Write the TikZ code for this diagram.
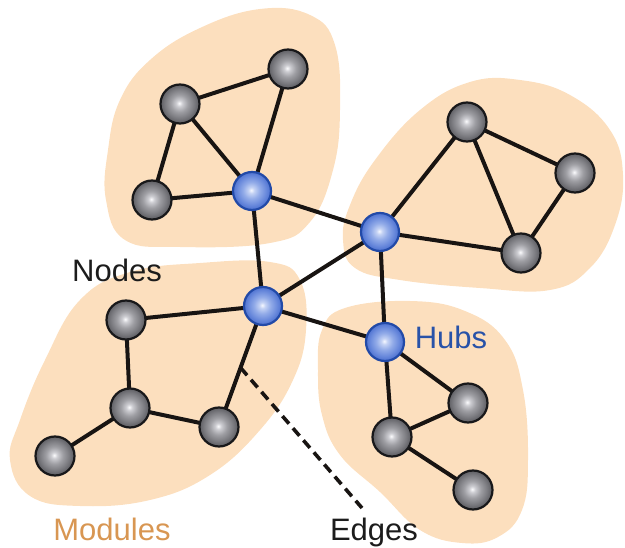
\documentclass[tikz,border=0pt]{standalone}
\usepackage{fontspec}
\setmainfont{Liberation Sans}
\usetikzlibrary{calc}

\definecolor{modfill}{RGB}{252,223,190}
\definecolor{edgeclr}{RGB}{24,20,18}
\definecolor{nodeline}{RGB}{24,24,26}
\definecolor{hubline}{RGB}{34,74,168}
\definecolor{hubtext}{RGB}{40,82,168}
\definecolor{modtext}{RGB}{216,150,82}
\definecolor{txtdark}{RGB}{28,28,28}
% sphere colours
\definecolor{gA}{RGB}{252,252,254}
\definecolor{gB}{RGB}{205,205,210}
\definecolor{gC}{RGB}{158,158,163}
\definecolor{gD}{RGB}{122,122,127}
\definecolor{gE}{RGB}{92,92,97}
\definecolor{bA}{RGB}{246,248,255}
\definecolor{bB}{RGB}{196,210,244}
\definecolor{bC}{RGB}{146,171,232}
\definecolor{bD}{RGB}{106,138,220}
\definecolor{bE}{RGB}{76,112,208}

\pgfdeclareradialshading{graysphere}{\pgfpoint{-1bp}{1bp}}{%
  color(0bp)=(gA); color(4bp)=(gB); color(11bp)=(gC);
  color(19bp)=(gD); color(25bp)=(gE); color(50bp)=(gE)}
\pgfdeclareradialshading{bluesphere}{\pgfpoint{-1bp}{1bp}}{%
  color(0bp)=(bA); color(4bp)=(bB); color(11bp)=(bC);
  color(19bp)=(bD); color(25bp)=(bE); color(50bp)=(bE)}

\pgfdeclarelayer{modules}
\pgfdeclarelayer{links}
\pgfsetlayers{modules,links,main}

\tikzset{
  plainnode/.style={circle, draw=nodeline, line width=2.2pt, minimum size=39pt,
    inner sep=0pt, shading=graysphere},
  hubnode/.style={circle, draw=hubline, line width=2.2pt, minimum size=38pt,
    inner sep=0pt, shading=bluesphere},
  link/.style={draw=edgeclr, line width=4pt},
  pointer/.style={draw=edgeclr, line width=3.6pt, dash pattern=on 10pt off 6pt},
  module/.style={fill=modfill},
  lbl/.style={font=\fontsize{31}{36}\selectfont, anchor=base, inner sep=0pt}
}

\begin{document}
\begin{tikzpicture}[x=1pt, y=-1pt]
\useasboundingbox (0,0) rectangle (625,548);

% hubs
\node[hubnode] (H1) at (252,191) {};
\node[hubnode] (H2) at (380,232) {};
\node[hubnode] (H3) at (263,306) {};
\node[hubnode] (H4) at (385,342) {};

% upper-left module
\node[plainnode] (A1) at (180,104) {};
\node[plainnode] (A2) at (288,69) {};
\node[plainnode] (A3) at (152,200) {};
% upper-right module
\node[plainnode] (B1) at (467,122) {};
\node[plainnode] (B2) at (575,173) {};
\node[plainnode] (B3) at (521,253) {};
% lower-left module
\node[plainnode] (C1) at (126,320) {};
\node[plainnode] (C2) at (130,408) {};
\node[plainnode] (C3) at (219,427) {};
\node[plainnode] (C4) at (55,456) {};
% lower-right module
\node[plainnode] (D1) at (468,403) {};
\node[plainnode] (D2) at (392,437) {};
\node[plainnode] (D3) at (473,490) {};

% labels
\node[lbl, text=txtdark] (lnodes) at (117,282) {Nodes};
\node[lbl, text=hubtext] (lhubs) at (451,349) {Hubs};
\node[lbl, text=modtext] (lmods) at (112,541) {Modules};
\node[lbl, text=txtdark] (ledges) at (374,541) {Edges};

% module backgrounds
\begin{pgfonlayer}{modules}
\path[module] plot[smooth cycle, tension=0.7] coordinates {
  (106,200) (108,150) (120,100) (150,60) (200,28) (260,9) (310,15)
  (335,45) (340,110) (333,170) (310,222) (270,243) (180,247) (125,240)};
\path[module] plot[smooth cycle, tension=0.7] coordinates {
  (343,240) (350,205) (375,160) (420,110) (470,82) (520,80) (570,95)
  (610,130) (623,175) (615,225) (590,268) (550,290) (480,288) (400,280) (355,268)};
\path[module] plot[smooth cycle, tension=0.7] coordinates {
  (20,420) (45,360) (80,300) (130,272) (200,263) (270,262) (300,280)
  (306,330) (293,380) (260,430) (210,475) (150,500) (80,506) (30,496) (10,460)};
\path[module] plot[smooth cycle, tension=0.7] coordinates {
  (318,370) (322,330) (345,308) (410,301) (465,311) (505,340) (523,390)
  (528,460) (522,510) (498,537) (462,543) (420,530) (380,492) (340,455) (322,415)};
\end{pgfonlayer}

% connections
\begin{pgfonlayer}{links}
\draw[link] (A1.center) -- (A2.center);
\draw[link] (A1.center) -- (A3.center);
\draw[link] (A1.center) -- (H1.center);
\draw[link] (A2.center) -- (H1.center);
\draw[link] (A3.center) -- (H1.center);
\draw[link] (H1.center) -- (H2.center);
\draw[link] (H1.center) -- (H3.center);
\draw[link] (H2.center) -- (B1.center);
\draw[link] (H2.center) -- (B3.center);
\draw[link] (B1.center) -- (B2.center);
\draw[link] (B1.center) -- (B3.center);
\draw[link] (B2.center) -- (B3.center);
\draw[link] (H2.center) -- (H3.center);
\draw[link] (H2.center) -- (H4.center);
\draw[link] (H3.center) -- (H4.center);
\draw[link] (H3.center) -- (C1.center);
\draw[link] (H3.center) -- (C3.center);
\draw[link] (C1.center) -- (C2.center);
\draw[link] (C2.center) -- (C3.center);
\draw[link] (C2.center) -- (C4.center);
\draw[link] (H4.center) -- (D1.center);
\draw[link] (H4.center) -- (D2.center);
\draw[link] (D2.center) -- (D1.center);
\draw[link] (D2.center) -- (D3.center);
% pointer from an edge to its label
\coordinate (etip) at ($(H3)!0.51!(C3)$);
\coordinate (eend) at (362,508);
\draw[pointer] (etip) -- (eend);
\end{pgfonlayer}
\end{tikzpicture}
\end{document}
